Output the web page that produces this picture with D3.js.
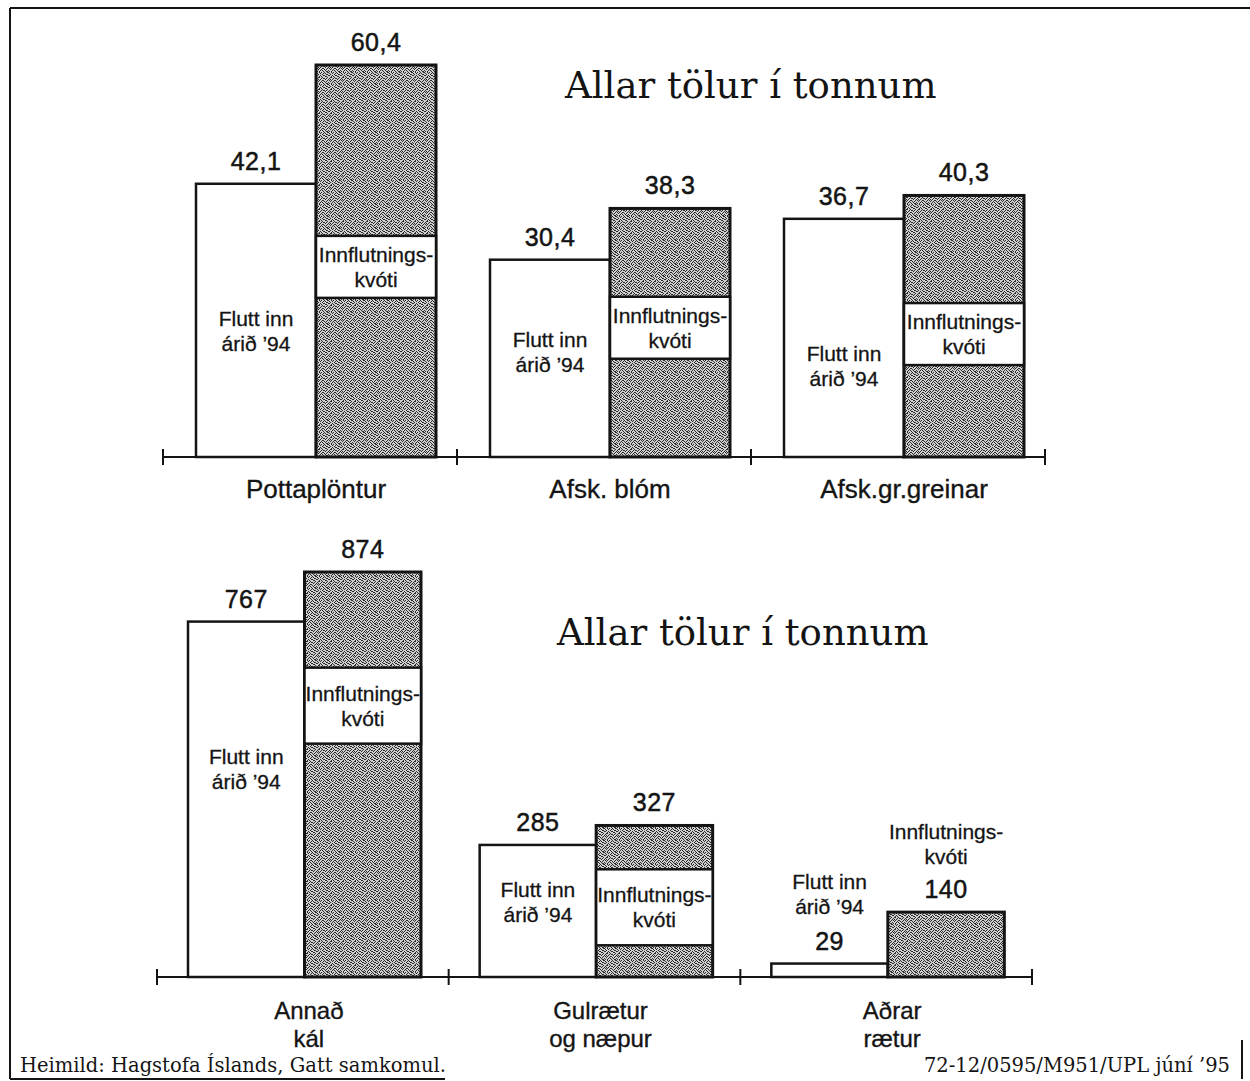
<!DOCTYPE html>
<html>
<head>
<meta charset="utf-8">
<script src="https://cdn.jsdelivr.net/npm/d3@7"></script>
<style>
  body { margin: 0; background: #fff; }
  svg { display: block; }
</style>
</head>
<body>
<div id="chart"></div>
<script>
// Innflutningur 1994 og innflutningskvóti, allar tölur í tonnum
const topCategories = [["Pottaplöntur"], ["Afsk. blóm"], ["Afsk.gr.greinar"]];
const topImported = [42.1, 30.4, 36.7];
const topQuota = [60.4, 38.3, 40.3];

const bottomCategories = [["Annað", "kál"], ["Gulrætur", "og næpur"], ["Aðrar", "rætur"]];
const bottomImported = [767, 285, 29];
const bottomQuota = [874, 327, 140];

const importedLabel = ["Flutt inn", "árið ’94"];
const quotaLabel = ["Innflutnings-", "kvóti"];
const titleText = "Allar tölur í tonnum";
const sourceText = "Heimild: Hagstofa Íslands, Gatt samkomul.";
const refText = "72-12/0595/M951/UPL júní ’95";

const width = 1250,
  height = 1081;
const ink = "#141414";

// icelandic number format, comma as decimal mark
const is = d3.formatLocale({ decimal: ",", thousands: ".", grouping: [3], currency: ["", " kr."] });

const svg = d3
  .select("#chart")
  .append("svg")
  .attr("width", width)
  .attr("height", height)
  .style("font-family", "'Liberation Sans', Arial, sans-serif");

//stippled screen for the quota bars (fixed grain, 12x12 tile)
const grain = [
  [0, 3, 4, 7, 9], [1, 5, 8, 11], [2, 3, 6, 10], [0, 4, 5, 8, 11], [1, 2, 7, 9],
  [3, 6, 7, 10], [0, 2, 5, 9, 11], [1, 4, 6, 8], [3, 5, 7, 10, 11], [0, 2, 6, 9],
  [1, 4, 8, 10], [2, 3, 5, 7, 11]
];
const pat = svg
  .append("defs")
  .append("pattern")
  .attr("id", "stipple")
  .attr("patternUnits", "userSpaceOnUse")
  .attr("width", 12)
  .attr("height", 12);
pat.append("rect").attr("width", 12).attr("height", 12).attr("fill", "#d0d0d0");
pat
  .append("path")
  .attr("d", grain.flatMap((xs, r) => xs.map((c) => `M${c} ${r}h1v1h-1z`)).join(""))
  .attr("fill", "#2a2a2a")
  .attr("shape-rendering", "crispEdges");

//frame of the scanned page
svg
  .append("path")
  .attr("d", "M10 8H1250M10 8V1079M10 1079H445M1242 1040V1079")
  .attr("fill", "none")
  .attr("stroke", ink)
  .attr("stroke-width", 2);

const panels = [
  {
    cats: topCategories, imp: topImported, quota: topQuota, fmt: is.format(".1f"),
    x0: 163, x1: 1045, inner: [33, 273], base: 457, top: 65,
    titleX: 565, titleY: 98, boxH: 62,
    boxFrac: [0.485, 0.52, 0.47], impFrac: [0.47, 0.54, 0.39], catGap: 41, catSize: 26
  },
  {
    cats: bottomCategories, imp: bottomImported, quota: bottomQuota, fmt: is.format("d"),
    x0: 157, x1: 1032, inner: [31, 264], base: 977, top: 572,
    titleX: 557, titleY: 645, boxH: 76,
    boxFrac: [0.67, 0.46, 0.5], impFrac: [0.59, 0.58, 0.5], catGap: 42, catSize: 24
  }
];

panels.forEach(drawPanel);

function drawPanel(p) {
  const g = svg.append("g");
  const idx = d3.range(p.cats.length);

  const x = d3.scaleBand().domain(idx).range([p.x0, p.x1]);
  const sub = d3.scaleBand().domain(["imp", "quota"]).range(p.inner);
  const y = d3.scaleLinear().domain([0, d3.max(p.quota)]).range([p.base, p.top]);
  const bw = sub.bandwidth();

  //title
  g.append("text")
    .attr("x", p.titleX)
    .attr("y", p.titleY)
    .attr("font-family", "'DejaVu Serif', serif")
    .attr("font-size", 37)
    .attr("fill", ink)
    .text(titleText);

  //baseline with ticks between the groups
  g.append("line")
    .attr("x1", p.x0).attr("x2", p.x1)
    .attr("y1", p.base).attr("y2", p.base)
    .attr("stroke", ink).attr("stroke-width", 2);
  g.selectAll(".tick")
    .data(idx.map((i) => x(i)).concat([p.x1]))
    .join("line")
    .attr("x1", (d) => d).attr("x2", (d) => d)
    .attr("y1", p.base - 8).attr("y2", p.base + 8)
    .attr("stroke", ink).attr("stroke-width", 2);

  const groups = g.selectAll(".grp").data(idx).join("g");

  //imported 1994 (white)
  groups.append("rect")
    .attr("x", (i) => x(i) + sub("imp"))
    .attr("y", (i) => y(p.imp[i]))
    .attr("width", bw)
    .attr("height", (i) => p.base - y(p.imp[i]))
    .attr("fill", "#fff")
    .attr("stroke", ink).attr("stroke-width", 2.5);

  //quota (stippled)
  groups.append("rect")
    .attr("x", (i) => x(i) + sub("quota"))
    .attr("y", (i) => y(p.quota[i]))
    .attr("width", bw)
    .attr("height", (i) => p.base - y(p.quota[i]))
    .attr("fill", "url(#stipple)")
    .attr("stroke", ink).attr("stroke-width", 3);

  groups.each(function (i) {
    const grp = d3.select(this);
    const ix = x(i) + sub("imp") + bw / 2;
    const qx = x(i) + sub("quota") + bw / 2;
    const impTop = y(p.imp[i]);
    const quotaTop = y(p.quota[i]);

    //values on top of the bars
    valueText(grp, ix, impTop - 14, p.fmt(p.imp[i]));
    valueText(grp, qx, quotaTop - 14, p.fmt(p.quota[i]));

    //short bars get their labels above the value
    const quotaShort = p.base - quotaTop < 100;
    const impShort = p.base - impTop < 100;

    if (quotaShort) {
      stack(grp, qx, quotaTop - 14 - 34, quotaLabel);
    } else {
      const c = y(p.quota[i] * p.boxFrac[i]);
      grp.append("rect")
        .attr("x", qx - bw / 2).attr("y", c - p.boxH / 2)
        .attr("width", bw).attr("height", p.boxH)
        .attr("fill", "#fff").attr("stroke", ink).attr("stroke-width", 2.5);
      stack(grp, qx, c + 20, quotaLabel);
    }

    if (impShort) {
      stack(grp, ix, impTop - 14 - 36, importedLabel);
    } else {
      stack(grp, ix, y(p.imp[i] * p.impFrac[i]) + 22, importedLabel);
    }

    //category name
    const cx = x(i) + x.bandwidth() / 2 + 6;
    grp.append("text")
      .attr("text-anchor", "middle")
      .attr("font-size", p.catSize)
      .attr("fill", ink)
      .attr("stroke", ink)
      .attr("stroke-width", 0.35)
      .selectAll("tspan")
      .data(p.cats[i])
      .join("tspan")
      .attr("x", cx)
      .attr("y", (d, k) => p.base + p.catGap + k * 28)
      .text((d) => d);
  });
}

function valueText(sel, cx, base, label) {
  sel.append("text")
    .attr("x", cx).attr("y", base)
    .attr("text-anchor", "middle")
    .attr("font-size", 25)
    .attr("fill", ink)
    .attr("stroke", ink)
    .attr("stroke-width", 0.5)
    .attr("letter-spacing", 0.5)
    .text(label);
}

//two-line label, lastBase = baseline of the last line
function stack(sel, cx, lastBase, lines) {
  sel.append("text")
    .attr("text-anchor", "middle")
    .attr("font-size", 21)
    .attr("fill", ink)
    .attr("stroke", ink)
    .attr("stroke-width", 0.3)
    .selectAll("tspan")
    .data(lines)
    .join("tspan")
    .attr("x", cx)
    .attr("y", (d, k) => lastBase - (lines.length - 1 - k) * 25)
    .text((d) => d);
}

//footer
svg.append("text")
  .attr("x", 20).attr("y", 1072)
  .attr("font-family", "'DejaVu Serif', serif")
  .attr("font-size", 19.5)
  .attr("fill", ink)
  .text(sourceText);
svg.append("text")
  .attr("x", 1230).attr("y", 1072)
  .attr("text-anchor", "end")
  .attr("font-family", "'DejaVu Serif', serif")
  .attr("font-size", 19.5)
  .attr("fill", ink)
  .text(refText);
</script>
</body>
</html>
